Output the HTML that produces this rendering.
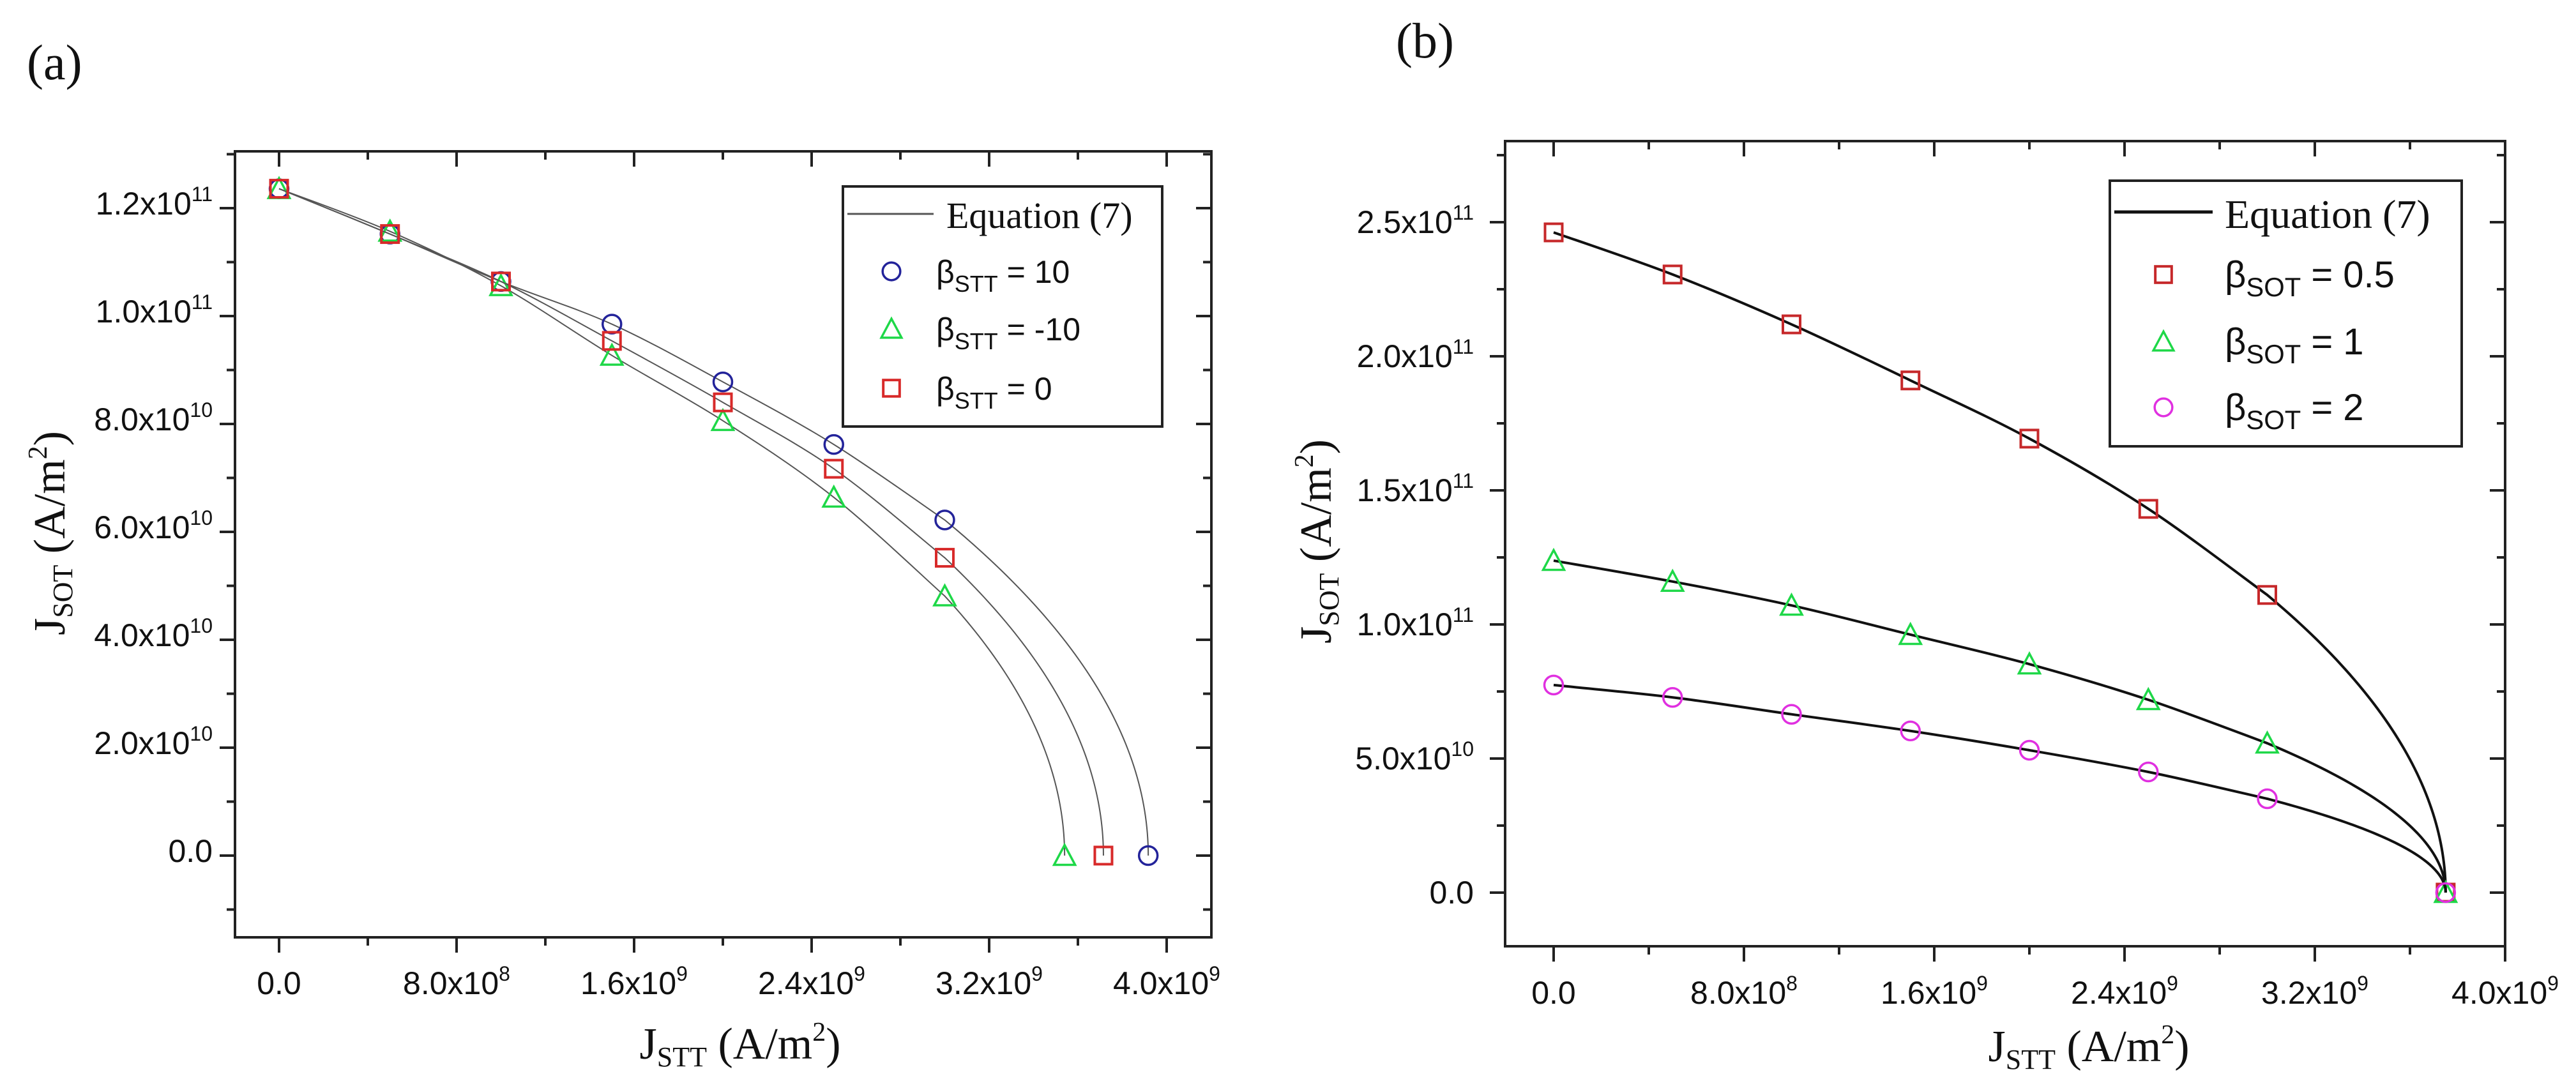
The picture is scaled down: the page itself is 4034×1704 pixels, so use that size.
<!DOCTYPE html>
<html><head><meta charset="utf-8"><title>J_SOT vs J_STT</title>
<style>
html,body{margin:0;padding:0;background:#fff;}
svg{display:block;}
text{fill:#111;}
.sans{font-family:"Liberation Sans",sans-serif;}
.serif{font-family:"Liberation Serif",serif;}
</style></head>
<body>
<svg id="fig" xmlns="http://www.w3.org/2000/svg" width="4034" height="1704" viewBox="0 0 4034 1704">
<rect width="4034" height="1704" fill="#fff"/>
<text class="serif" x="42" y="124" font-size="78">(a)</text>
<text class="serif" x="2186" y="90" font-size="78">(b)</text>
</svg>
<script>
// ---------- Panel (a) data ----------
const aX = [0, 0.5, 1.0, 1.5, 2.0, 2.5, 3.0];               // J_STT (x1e9)
const aBlueY = [1.236, 1.152, 1.064, 0.985, 0.878, 0.762, 0.622]; // beta_STT = 10 (x1e11)
const aGreenY = [1.236, 1.157, 1.056, 0.927, 0.806, 0.664, 0.481]; // beta_STT = -10
const aRedY = [1.236, 1.152, 1.064, 0.954, 0.840, 0.717, 0.552];  // beta_STT = 0
const aEndX = [3.917, 3.54, 3.715];                          // zero-crossing (blue, green, red)
const aXTicks = [0, 0.8, 1.6, 2.4, 3.2, 4.0];
const aXTickLabels = ["0.0", "8.0x10|8", "1.6x10|9", "2.4x10|9", "3.2x10|9", "4.0x10|9"];
const aYTicks = [0, 0.2, 0.4, 0.6, 0.8, 1.0, 1.2];
const aYTickLabels = ["0.0", "2.0x10|10", "4.0x10|10", "6.0x10|10", "8.0x10|10", "1.0x10|11", "1.2x10|11"];
// ---------- Panel (b) data ----------
const bX = [0, 0.5, 1.0, 1.5, 2.0, 2.5, 3.0];
const bRedY = [2.462, 2.305, 2.119, 1.910, 1.693, 1.431, 1.110];   // beta_SOT = 0.5
const bGreenY = [1.238, 1.160, 1.071, 0.962, 0.852, 0.719, 0.557]; // beta_SOT = 1
const bMagY = [0.774, 0.728, 0.665, 0.603, 0.531, 0.450, 0.350];   // beta_SOT = 2
const bEndX = [3.75, 3.75, 3.75];
const bXTicks = [0, 0.8, 1.6, 2.4, 3.2, 4.0];
const bXTickLabels = ["0.0", "8.0x10|8", "1.6x10|9", "2.4x10|9", "3.2x10|9", "4.0x10|9"];
const bYTicks = [0, 0.5, 1.0, 1.5, 2.0, 2.5];
const bYTickLabels = ["0.0", "5.0x10|10", "1.0x10|11", "1.5x10|11", "2.0x10|11", "2.5x10|11"];

const NS = "http://www.w3.org/2000/svg";
const svg = document.getElementById("fig");
function mk(tag, attrs, parent) {
  const e = document.createElementNS(NS, tag);
  for (const k in attrs) e.setAttribute(k, attrs[k]);
  (parent || svg).appendChild(e);
  return e;
}
function supText(parent, str, x, y, fs, anchor) {
  const parts = str.split("|");
  const t = mk("text", {x: x, y: y, "font-size": fs, "text-anchor": anchor, class: "sans"}, parent);
  t.appendChild(document.createTextNode(parts[0]));
  if (parts[1]) {
    const s = mk("tspan", {"font-size": fs * 0.64, dy: -fs * 0.42}, t);
    s.textContent = parts[1];
  }
  return t;
}

function panel(cfg) {
  const g = mk("g", {});
  
  
  const X = v => cfg.x0 + v * cfg.kx;
  const Y = v => cfg.y0 - v * cfg.ky;
  const L = cfg.left, R = cfg.right, T = cfg.top, B = cfg.bottom;
  // ticks
  const tg = mk("g", {stroke: "#222", "stroke-width": 4}, g);
  
  
  for (let v = cfg.xMinorStart; v <= cfg.xMax + 1e-9; v += cfg.xMinor) {
    const px = X(v); if (px < L - 1 || px > R + 1) continue;
    const major = Math.abs(v / cfg.xMajor - Math.round(v / cfg.xMajor)) < 1e-6;
    const len = major ? 24 : 13;
    mk("line", {x1: px, x2: px, y1: B, y2: B + len}, tg);
    mk("line", {x1: px, x2: px, y1: T, y2: T + len}, tg);
  }
  for (let v = cfg.yMinorStart; v <= cfg.yMax + 1e-9; v += cfg.yMinor) {
    const py = Y(v); if (py < T - 1 || py > B + 1) continue;
    const major = Math.abs(v / cfg.yMajor - Math.round(v / cfg.yMajor)) < 1e-6;
    const len = major ? 24 : 13;
    mk("line", {x1: L - len, x2: L, y1: py, y2: py}, tg);
    mk("line", {x1: R - len, x2: R, y1: py, y2: py}, tg);
  }
  const frame = mk("rect", {x: L, y: T, width: R - L, height: B - T, fill: "none", stroke: "#222", "stroke-width": 4}, g);
  
  
  // tick labels
  cfg.xTicks.forEach((v, i) => {
    const t = supText(g, cfg.xTickLabels[i], X(v), cfg.xLabY, cfg.tickFs, "middle");
    
    
  });
  cfg.yTicks.forEach((v, i) => {
    const t = supText(g, cfg.yTickLabels[i], cfg.yLabX, Y(v) + cfg.yLabDy, cfg.tickFs, "end");
    
    
  });
  // axis titles
  const xt = mk("text", {x: cfg.xTitleX, y: cfg.xTitleY, "font-size": 70, "text-anchor": "middle", class: "serif"}, g);
  
  
  xt.innerHTML = 'J<tspan font-size="44" dy="12">STT</tspan><tspan dy="-12"> (A/m</tspan><tspan font-size="42" dy="-28">2</tspan><tspan dy="28">)</tspan>';
  const yt = mk("text", {x: 0, y: 0, "font-size": 70, "text-anchor": "middle", class: "serif",
    transform: "translate(" + cfg.yTitleX + "," + cfg.yTitleY + ") rotate(-90)"}, g);
  
  
  yt.innerHTML = 'J<tspan font-size="44" dy="12">SOT</tspan><tspan dy="-12"> (A/m</tspan><tspan font-size="42" dy="-28">2</tspan><tspan dy="28">)</tspan>';
  // series
  cfg.series.forEach(s => {
    const pts = s.xs.map((xv, i) => [X(xv), Y(s.ys[i])]);
    const n = pts.length;
    let d = "M" + pts[0][0] + "," + pts[0][1];
    for (let i = 0; i < n - 1; i++) {
      const p0 = pts[Math.max(0, i - 1)], p1 = pts[i], p2 = pts[i + 1], p3 = pts[Math.min(n - 1, i + 2)];
      const c1 = [p1[0] + (p2[0] - p0[0]) / 6, p1[1] + (p2[1] - p0[1]) / 6];
      const c2 = [p2[0] - (p3[0] - p1[0]) / 6, p2[1] - (p3[1] - p1[1]) / 6];
      d += " C" + c1 + " " + c2 + " " + p2;
    }
    // tail: y ∝ sqrt(xc - x) from last point down to zero-crossing
    const xl = s.xs[n - 1], yl = s.ys[n - 1];
    for (let k = 1; k <= 60; k++) {
      const u = k / 60;
      const xv = s.end - (s.end - xl) * (1 - u) * (1 - u);
      const yv = yl * (1 - u);
      d += " L" + X(xv).toFixed(2) + "," + Y(yv).toFixed(2);
    }
    const path = mk("path", {d: d, fill: "none", stroke: cfg.lineColor, "stroke-width": cfg.lineW}, g);
    
    
    const allX = s.xs.concat([s.end]), allY = s.ys.concat([0]);
    allX.forEach((xv, i) => {
      const m = marker(g, s.shape, X(xv), Y(allY[i]), s.color, cfg.mk);
      
      
    });
  });
  // legend
  const lg = mk("g", {}, g);
  
  
  const lb = cfg.leg;
  mk("rect", {x: lb.x1, y: lb.y1, width: lb.x2 - lb.x1, height: lb.y2 - lb.y1, fill: "#fff", stroke: "#222", "stroke-width": 4}, lg);
  mk("line", {x1: lb.lx1, x2: lb.lx2, y1: lb.ly, y2: lb.ly, stroke: cfg.lineColor, "stroke-width": cfg.lineW + 1}, lg);
  const et = mk("text", {x: lb.tx, y: lb.ly + lb.eqDy, "font-size": lb.eqFs, class: "serif"}, lg);
  et.textContent = "Equation (7)";
  
  
  lb.rows.forEach((r, i) => {
    const s = cfg.series[r.s];
    marker(lg, s.shape, lb.mx, r.y, s.color, cfg.mk * 0.95);
    const t = mk("text", {x: lb.bx, y: r.y + lb.bDy, "font-size": lb.bFs, class: "sans"}, lg);
    
    
    t.innerHTML = '\u03b2<tspan font-size="' + lb.bFs * 0.72 + '" dy="14">' + lb.sub + '</tspan><tspan dy="-14"> = ' + r.label + '</tspan>';
  });
}
function marker(parent, shape, x, y, color, size) {
  const h = size / 2;
  let e;
  if (shape === "circle") e = mk("circle", {cx: x, cy: y, r: h + 1, fill: "none", stroke: color, "stroke-width": 3.5}, parent);
  else if (shape === "square") e = mk("rect", {x: x - h, y: y - h, width: size, height: size, fill: "none", stroke: color, "stroke-width": 4}, parent);
  else e = mk("polygon", {points: [x, y - h - 3, x - h - 3, y + h + 1, x + h + 3, y + h + 1].join(" ").replace(/(\S+) (\S+)/g, "$1,$2"), fill: "none", stroke: color, "stroke-width": 3.5}, parent);
  return e;
}

panel({
  name: "panel-a-chart", x0: 437, kx: 347.5, y0: 1340, ky: 845,
  left: 368, right: 1897, top: 237, bottom: 1468,
  xMajor: 0.8, xMinor: 0.4, xMinorStart: 0, xMax: 4.2,
  yMajor: 0.2, yMinor: 0.1, yMinorStart: -0.1, yMax: 1.3,
  xTicks: aXTicks, xTickLabels: aXTickLabels, yTicks: aYTicks, yTickLabels: aYTickLabels,
  tickFs: 50, xLabY: 1557, yLabX: 333, yLabDy: 10,
  xTitleX: 1159, xTitleY: 1658, yTitleX: 101, yTitleY: 835,
  lineColor: "#555", lineW: 2, mk: 27,
  series: [
    {name: "beta-stt-10", shape: "circle", color: "#23239a", xs: aX, ys: aBlueY, end: aEndX[0]},
    {name: "beta-stt-minus-10", shape: "triangle", color: "#1ed848", xs: aX, ys: aGreenY, end: aEndX[1]},
    {name: "beta-stt-0", shape: "square", color: "#d82a2a", xs: aX, ys: aRedY, end: aEndX[2]}
  ],
  leg: {x1: 1320, y1: 292, x2: 1820, y2: 668, lx1: 1327, lx2: 1462, ly: 335, tx: 1482, eqDy: 22, eqFs: 58,
        mx: 1396, bx: 1466, bDy: 18, bFs: 50, sub: "STT",
        rows: [{s: 0, y: 425, label: "10"}, {s: 1, y: 515, label: "-10"}, {s: 2, y: 608, label: "0"}]}
});
panel({
  name: "panel-b-chart", x0: 2433, kx: 372.5, y0: 1398, ky: 420,
  left: 2357, right: 3923, top: 221, bottom: 1482,
  xMajor: 0.8, xMinor: 0.4, xMinorStart: 0, xMax: 4.0,
  yMajor: 0.5, yMinor: 0.25, yMinorStart: -0.25, yMax: 2.8,
  xTicks: bXTicks, xTickLabels: bXTickLabels, yTicks: bYTicks, yTickLabels: bYTickLabels,
  tickFs: 50, xLabY: 1572, yLabX: 2308, yLabDy: 17,
  xTitleX: 3271, xTitleY: 1662, yTitleX: 2084, yTitleY: 848,
  lineColor: "#111", lineW: 4, mk: 27,
  series: [
    {name: "beta-sot-0-5", shape: "square", color: "#c6282a", xs: bX, ys: bRedY, end: bEndX[0]},
    {name: "beta-sot-1", shape: "triangle", color: "#1ed848", xs: bX, ys: bGreenY, end: bEndX[1]},
    {name: "beta-sot-2", shape: "circle", color: "#e030e0", xs: bX, ys: bMagY, end: bEndX[2]}
  ],
  leg: {x1: 3304, y1: 283, x2: 3855, y2: 699, lx1: 3311, lx2: 3465, ly: 332, tx: 3484, eqDy: 25, eqFs: 64,
        mx: 3388, bx: 3484, bDy: 20, bFs: 58, sub: "SOT",
        rows: [{s: 0, y: 430, label: "0.5"}, {s: 1, y: 535, label: "1"}, {s: 2, y: 638, label: "2"}]}
});
</script>
</body></html>
